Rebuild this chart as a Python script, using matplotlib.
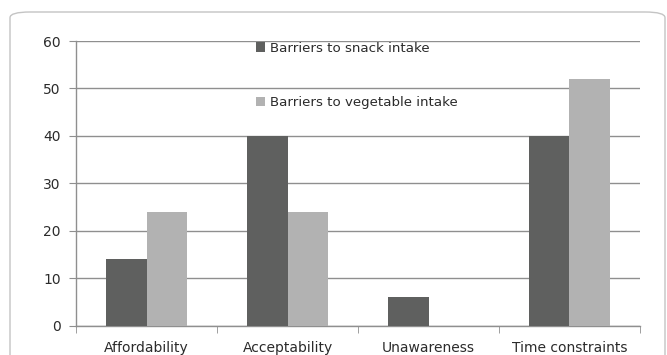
import numpy as np
import matplotlib
matplotlib.use('Agg')
import matplotlib.pyplot as plt
from matplotlib.patches import FancyBboxPatch

# ---- data ----
categories = ['Affordability', 'Acceptability', 'Unawareness', 'Time constraints']
snack = [14, 40, 6, 40]
vegetable = [24, 24, 0, 52]
series_names = ['Barriers to snack intake', 'Barriers to vegetable intake']

dark = '#5f605f'
light = '#b2b2b2'
grid_col = '#8f8f8f'
text_col = '#2b2b2b'

plt.rcParams['font.family'] = ['DejaVu Sans']

fig = plt.figure(figsize=(6.67, 3.55), dpi=100)
ax = fig.add_axes([0.114, 0.083, 0.8455, 0.8015])

# outer rounded frame
frame = FancyBboxPatch((10 / 667, -0.2), 655 / 667, 1.0 - 12 / 355 + 0.2,
                       boxstyle='round,pad=0,rounding_size=0.03',
                       transform=fig.transFigure, fill=False,
                       edgecolor='#c4c4c4', linewidth=1.0, mutation_aspect=355 / 667)
fig.patches.append(frame)

x = np.arange(len(categories))
w = 1 / 3.5
ax.bar(x - w / 2, snack, width=w, color=dark, label=series_names[0], zorder=3)
ax.bar(x + w / 2, vegetable, width=w, color=light, label=series_names[1], zorder=3)

ax.set_xlim(-0.5, len(categories) - 0.5)
ax.set_ylim(0, 60)
ax.set_yticks(range(0, 61, 10))
ax.yaxis.grid(True, color=grid_col, linewidth=1.0, zorder=0)

ax.set_xticks(x)
ax.set_xticklabels(categories)
ax.set_xticks(np.arange(-0.5, len(categories), 1.0), minor=True)
ax.tick_params(axis='x', which='major', length=0, pad=11, labelsize=10, labelcolor=text_col)
ax.tick_params(axis='x', which='minor', length=5, color=grid_col, direction='out')
ax.tick_params(axis='y', length=5, color=grid_col, labelsize=10, labelcolor=text_col, pad=6)

for s in ['top', 'right']:
    ax.spines[s].set_visible(False)
for s in ['left', 'bottom']:
    ax.spines[s].set_color(grid_col)
    ax.spines[s].set_linewidth(1.0)

leg = ax.legend(loc='upper left', bbox_to_anchor=(0.297, 1.04), frameon=False,
                fontsize=9.6, handlelength=0.7, handleheight=0.7,
                handletextpad=0.35, labelspacing=3.1)
for t in leg.get_texts():
    t.set_color(text_col)

fig.savefig('out.png', dpi=100)
